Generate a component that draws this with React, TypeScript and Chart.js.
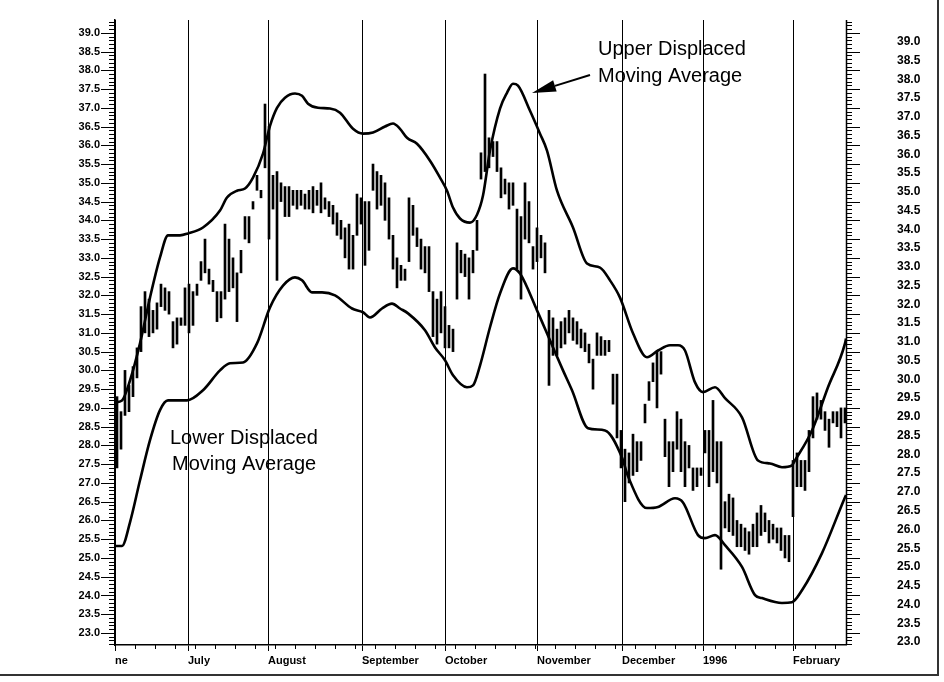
import React, { useEffect, useRef } from 'react';
import { Chart, registerables } from 'chart.js';

Chart.register(...registerables);

// Daily high / low prices (one bar per trading day, June 1995 – February 1996)
const HIGH = [
  29.3, 28.9, 30.0, 29.6, 30.1, 30.6, 31.7, 32.1, 31.9, 31.6,
  31.8, 32.3, 32.2, 32.1, 31.3, 31.4, 31.4, 32.2, 32.3, 32.1,
  32.3, 32.9, 33.5, 32.7, 32.4, 32.1, 32.1, 33.9, 33.5, 33.0,
  32.6, 33.2, 34.1, 34.1, 34.5, 35.2, 34.8, 37.1, 36.5, 35.2,
  35.3, 35.0, 34.9, 34.9, 34.8, 34.8, 34.8, 34.7, 34.8, 34.9,
  34.8, 35.0, 34.6, 34.5, 34.4, 34.2, 34.0, 33.8, 33.9, 33.6,
  34.7, 34.6, 34.5, 34.5, 35.5, 35.3, 35.2, 35.0, 34.6, 33.6,
  33.0, 32.8, 32.7, 34.6, 34.4, 33.8, 33.5, 33.3, 33.3, 32.1,
  31.9, 32.1, 31.7, 31.2, 31.1, 33.4, 33.2, 33.1, 33.0, 33.2,
  34.0, 35.8, 37.9, 36.2, 36.1, 36.1, 35.4, 35.1, 35.0, 35.0,
  34.3, 34.1, 35.0, 34.5, 33.3, 33.8, 33.6, 33.4, 31.6, 31.4,
  31.1, 31.3, 31.4, 31.6, 31.4, 31.3, 31.1, 31.0, 30.7, 30.3,
  31.0, 30.9, 30.8, 30.8, 29.9, 29.9, 28.4, 27.9, 27.8, 28.3,
  28.1, 28.1, 29.1, 29.7, 30.2, 30.5, 30.5, 28.7, 28.1, 28.1,
  28.9, 28.7, 28.1, 28.0, 27.4, 27.4, 27.4, 28.4, 28.4, 29.2,
  28.1, 28.1, 26.5, 26.7, 26.6, 26.0, 25.9, 25.8, 25.7, 25.9,
  26.2, 26.4, 26.2, 26.0, 25.9, 25.8, 25.8, 25.6, 25.6, 27.6,
  27.8, 27.6, 27.6, 28.4, 29.3, 29.4, 29.2, 28.9, 28.7, 28.9,
  28.9, 29.0, 29.0,
];
const LOW = [
  27.4, 27.9, 28.8, 28.9, 29.3, 29.8, 30.5, 31.0, 30.9, 31.0,
  31.1, 31.7, 31.6, 31.5, 30.6, 30.7, 31.2, 31.2, 31.0, 31.2,
  32.0, 32.4, 32.6, 32.3, 32.1, 31.3, 31.4, 31.9, 32.1, 32.2,
  31.3, 32.6, 33.5, 33.4, 34.3, 34.8, 34.6, 35.4, 33.5, 34.3,
  32.4, 34.5, 34.1, 34.1, 34.4, 34.3, 34.4, 34.3, 34.3, 34.2,
  34.4, 34.2, 34.3, 34.1, 33.9, 33.6, 33.5, 33.0, 32.7, 32.7,
  33.6, 33.9, 32.8, 33.2, 34.8, 34.3, 34.4, 34.0, 33.5, 32.7,
  32.2, 32.4, 32.4, 32.9, 33.6, 33.3, 32.7, 32.6, 32.1, 30.9,
  30.7, 31.0, 30.6, 30.6, 30.5, 31.9, 32.6, 32.5, 31.9, 32.6,
  33.2, 35.1, 35.3, 35.4, 35.7, 35.3, 34.6, 34.7, 34.3, 34.4,
  32.7, 31.9, 33.5, 33.4, 32.7, 32.9, 33.0, 32.6, 29.6, 30.4,
  30.4, 30.6, 30.7, 31.0, 30.8, 30.7, 30.6, 30.5, 30.2, 29.5,
  30.4, 30.4, 30.4, 30.5, 29.1, 28.2, 27.4, 26.5, 27.0, 27.2,
  27.3, 27.6, 28.6, 29.2, 29.7, 29.0, 29.9, 27.7, 26.9, 27.3,
  27.9, 27.3, 26.9, 27.4, 26.8, 26.9, 27.2, 27.8, 26.9, 27.3,
  27.0, 24.7, 25.8, 25.7, 25.6, 25.3, 25.3, 25.2, 25.1, 25.3,
  25.3, 25.6, 25.7, 25.4, 25.5, 25.4, 25.2, 25.0, 24.9, 26.1,
  26.9, 26.9, 26.8, 27.3, 28.2, 28.7, 28.7, 28.4, 27.95, 28.6,
  28.5, 28.2, 28.6,
];

// Upper displaced moving average (trading-day position, price)
const UPPER_DAY = [
  0, 1.75, 3.75, 6.25, 8.75, 11.25, 13.25, 16.25, 18.25, 22,
  26.25, 28, 30.5, 32.5, 34.5, 37, 38.75, 40.5, 42.5, 45,
  46.75, 48.25, 50.75, 53.75, 56.25, 59.5, 62, 64.5, 67.5, 69.5,
  71.25, 73, 75.5, 78.75, 81.25, 83, 84.5, 86.25, 88.75, 90.5,
  92, 93.75, 96.25, 98, 99.5, 100.75, 103.75, 106.25, 108, 110.5,
  114.5, 118, 121.25, 123.75, 126.25, 129.5, 133, 135.75, 138.75, 140.75,
  142.5, 145, 147, 150, 152.5, 156.75, 160.75, 163.75, 166.75, 169.25,
  170, 174.25, 178.25, 182.5, 182.75,
];
const UPPER_VAL = [
  29.15, 29.2, 29.73, 30.72, 31.94, 33.01, 33.6, 33.6, 33.65, 33.81,
  34.26, 34.61, 34.79, 34.85, 35.14, 35.78, 36.52, 37.0, 37.27, 37.38,
  37.32, 37.11, 37.0, 36.98, 36.87, 36.44, 36.31, 36.34, 36.5, 36.58,
  36.44, 36.2, 36.04, 35.59, 35.14, 34.79, 34.34, 34.05, 33.94, 34.15,
  34.66, 35.86, 36.98, 37.4, 37.64, 37.59, 36.92, 36.31, 35.86, 34.79,
  33.81, 32.85, 32.74, 32.4, 31.94, 30.99, 30.35, 30.53, 30.67, 30.67,
  30.53, 29.68, 29.42, 29.55, 29.26, 28.75, 27.6, 27.52, 27.42, 27.47,
  27.6, 28.4, 29.55, 30.72, 30.85,
];

// Lower displaced moving average (trading-day position, price)
const LOWER_DAY = [
  0, 1.75, 3.75, 6.25, 8.75, 11.25, 13.25, 18, 22, 26.25,
  28.75, 32, 35.5, 38.75, 42, 45, 46.75, 49.25, 51.75, 55,
  59.25, 62, 63.75, 66.75, 69.25, 71.25, 73.25, 77.5, 80, 82.5,
  84.5, 88, 89.5, 91.25, 93.75, 96.25, 99.5, 101.25, 105.5, 108.75,
  112, 114.25, 118.25, 122.5, 126.75, 128.25, 133, 135.75, 140, 142,
  145.75, 147.5, 150, 152.5, 156.75, 160, 161.75, 166.75, 169.25, 171.75,
  176.75, 182.5, 182.75,
];
const LOWER_VAL = [
  25.32, 25.32, 25.95, 27.07, 28.14, 28.94, 29.2, 29.2, 29.47, 30.0,
  30.19, 30.21, 30.72, 31.68, 32.26, 32.48, 32.4, 32.08, 32.08, 32.0,
  31.65, 31.55, 31.41, 31.65, 31.78, 31.65, 31.52, 31.07, 30.61, 30.27,
  29.87, 29.55, 29.6, 30.13, 31.15, 32.05, 32.72, 32.58, 31.6, 30.8,
  30.0, 29.47, 28.46, 28.4, 27.68, 27.18, 26.33, 26.36, 26.59, 26.48,
  25.61, 25.53, 25.61, 25.34, 24.76, 24.01, 23.93, 23.8, 23.82, 24.14,
  25.13, 26.62, 26.68,
];

// Axis ticks
const MONTH_POS = [0, 18.25, 38.25, 61.75, 82.5, 105.5, 126.75, 147, 169.5];
const MONTH_LABELS = ['ne', 'July', 'August', 'September', 'October', 'November', 'December', '1996', 'February'];
const Y_TICKS = [
  23.0, 23.5, 24.0, 24.5, 25.0, 25.5, 26.0, 26.5, 27.0, 27.5, 28.0,
  28.5, 29.0, 29.5, 30.0, 30.5, 31.0, 31.5, 32.0, 32.5, 33.0, 33.5,
  34.0, 34.5, 35.0, 35.5, 36.0, 36.5, 37.0, 37.5, 38.0, 38.5, 39.0,
];

const UPPER_NOTE = ['Upper Displaced', 'Moving Average'];
const LOWER_NOTE = ['Lower Displaced', 'Moving Average'];

const FONT = '"Liberation Sans", Arial, Helvetica, sans-serif';
const CLEAR = 'rgba(0,0,0,0)';

const decor = {
  id: 'decor',
  afterDraw(chart: any) {
    const { ctx, chartArea: ca, scales } = chart;
    const y = scales.y;
    const x = scales.x;
    ctx.save();
    ctx.strokeStyle = '#000';
    ctx.fillStyle = '#000';
    ctx.lineWidth = 1;

    // minor / major ticks on left and right vertical axes
    for (let k = 227; k <= 393; k++) {
      const v = k / 10;
      const py = Math.round(y.getPixelForValue(v)) + 0.5;
      if (py < ca.top || py > ca.bottom) continue;
      const major = k % 5 === 0;
      ctx.beginPath();
      ctx.moveTo(ca.left - (major ? 14 : 6), py);
      ctx.lineTo(ca.left, py);
      ctx.moveTo(ca.right, py);
      ctx.lineTo(ca.right + (major ? 14 : 6), py);
      ctx.stroke();
    }
    // right axis line
    ctx.lineWidth = 1.5;
    ctx.beginPath();
    ctx.moveTo(ca.right + 0.5, ca.top);
    ctx.lineTo(ca.right + 0.5, ca.bottom);
    ctx.stroke();

    // weekly ticks on x axis
    ctx.lineWidth = 1;
    for (let d = 0; d <= 182; d += 5) {
      const px = Math.round(x.getPixelForValue(d)) + 0.5;
      ctx.beginPath();
      ctx.moveTo(px, ca.bottom);
      ctx.lineTo(px, ca.bottom + 4);
      ctx.stroke();
    }

    // annotations
    ctx.font = `20px ${FONT}`;
    ctx.textAlign = 'left';
    ctx.textBaseline = 'alphabetic';
    ctx.fillText(UPPER_NOTE[0], ca.left + 483, ca.top + 35);
    ctx.fillText(UPPER_NOTE[1], ca.left + 483, ca.top + 62);
    ctx.fillText(LOWER_NOTE[0], ca.left + 55, ca.top + 424);
    ctx.fillText(LOWER_NOTE[1], ca.left + 57, ca.top + 450);

    // arrow to the upper curve
    const sx = x.getPixelForValue(118.75), sy = ca.top + 55;
    const tx = x.getPixelForValue(104.25), ty = ca.top + 73;
    const ang = Math.atan2(ty - sy, tx - sx);
    const hl = 24, hw = 6;
    const bx = tx - hl * Math.cos(ang), by = ty - hl * Math.sin(ang);
    ctx.lineWidth = 2;
    ctx.beginPath();
    ctx.moveTo(sx, sy);
    ctx.lineTo(bx, by);
    ctx.stroke();
    ctx.beginPath();
    ctx.moveTo(tx, ty);
    ctx.lineTo(bx + hw * Math.sin(ang), by - hw * Math.cos(ang));
    ctx.lineTo(bx - hw * Math.sin(ang), by + hw * Math.cos(ang));
    ctx.closePath();
    ctx.fill();

    // page frame (right and bottom edges of the scanned figure)
    ctx.strokeStyle = '#333';
    ctx.lineWidth = 2;
    ctx.beginPath();
    ctx.moveTo(0, 675);
    ctx.lineTo(938, 675);
    ctx.lineTo(938, 0);
    ctx.stroke();

    ctx.restore();
  },
};

export default function App() {
  const ref = useRef<HTMLCanvasElement | null>(null);

  useEffect(() => {
    if (!ref.current) return;
    const chart = new Chart(ref.current, {
      type: 'bar',
      data: {
        datasets: [
          {
            type: 'line',
            label: 'Upper Displaced Moving Average',
            data: UPPER_DAY.map((d, i) => ({ x: d, y: UPPER_VAL[i] })),
            borderColor: '#000',
            borderWidth: 2.6,
            pointRadius: 0,
            fill: false,
            cubicInterpolationMode: 'monotone',
            order: 0,
          } as any,
          {
            type: 'line',
            label: 'Lower Displaced Moving Average',
            data: LOWER_DAY.map((d, i) => ({ x: d, y: LOWER_VAL[i] })),
            borderColor: '#000',
            borderWidth: 2.6,
            pointRadius: 0,
            fill: false,
            cubicInterpolationMode: 'monotone',
            order: 0,
          } as any,
          {
            type: 'bar',
            label: 'Price range',
            data: HIGH.map((h, i) => ({ x: i + 0.5, y: [LOW[i], h] })),
            backgroundColor: '#000',
            borderWidth: 0,
            barThickness: 2,
            order: 1,
          } as any,
        ],
      },
      options: {
        animation: false,
        responsive: false,
        layout: { padding: { top: 20, left: 0, right: 0, bottom: 0 } },
        plugins: { legend: { display: false }, tooltip: { enabled: false } },
        scales: {
          x: {
            type: 'linear',
            min: 0,
            max: 182.75,
            offset: false,
            grid: {
              display: true,
              offset: false,
              color: '#000',
              lineWidth: 1,
              drawTicks: true,
              tickLength: 6,
              tickColor: '#000',
            },
            border: { display: true, color: '#000', width: 1.5 },
            ticks: {
              autoSkip: false,
              maxRotation: 0,
              minRotation: 0,
              align: 'start',
              padding: 3,
              color: '#000',
              font: { family: FONT, size: 11, weight: 'bold' },
              callback: (_v: any, idx: number) => MONTH_LABELS[idx],
            },
            afterBuildTicks: (s: any) => {
              s.ticks = MONTH_POS.map((v) => ({ value: v }));
            },
            afterFit: (s: any) => {
              s.height = 37;
            },
          },
          y: {
            position: 'left',
            min: 22.68,
            max: 39.34,
            grid: { display: true, drawOnChartArea: false, drawTicks: true, tickLength: 12, tickColor: CLEAR },
            border: { display: true, color: '#000', width: 1.5 },
            ticks: {
              autoSkip: false,
              padding: 3,
              color: '#000',
              font: { family: FONT, size: 11, weight: 'bold' },
              callback: (v: any) => Number(v).toFixed(1),
            },
            afterBuildTicks: (s: any) => {
              s.ticks = Y_TICKS.map((v) => ({ value: v }));
            },
            afterFit: (s: any) => {
              s.width = 115;
            },
          },
          y2: {
            position: 'right',
            min: 22.92,
            max: 39.58,
            grid: { display: true, drawOnChartArea: false, drawTicks: true, tickLength: 47, tickColor: CLEAR },
            border: { display: false },
            ticks: {
              autoSkip: false,
              padding: 4,
              color: '#000',
              font: { family: FONT, size: 12, weight: 'bold' },
              callback: (v: any) => Number(v).toFixed(1),
            },
            afterBuildTicks: (s: any) => {
              s.ticks = Y_TICKS.map((v) => ({ value: v }));
            },
            afterFit: (s: any) => {
              s.width = 98;
            },
          },
        },
      } as any,
      plugins: [decor],
    });
    return () => chart.destroy();
  }, []);

  return (
    <div style={{ position: 'fixed', left: 0, top: 0, width: 944, height: 682, background: '#fff' }}>
      <canvas ref={ref} width={944} height={682} style={{ width: 944, height: 682, display: 'block' }} />
    </div>
  );
}
